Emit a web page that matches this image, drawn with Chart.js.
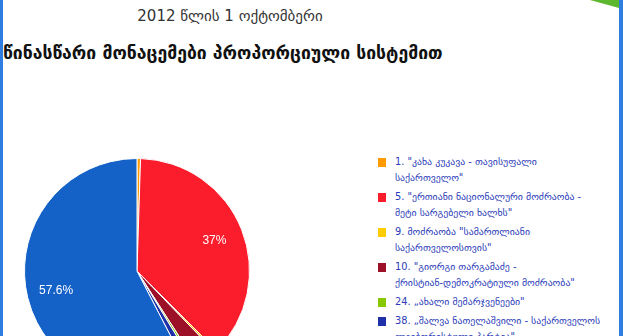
<!DOCTYPE html>
<html lang="ka">
<head>
<meta charset="UTF-8">
<title>2012 წლის 1 ოქტომბერი</title>
<script src="https://cdn.jsdelivr.net/npm/chart.js"></script>
<style>
  html, body { margin: 0; padding: 0; width: 623px; height: 336px; overflow: hidden; background: #fff; }
  body { position: relative; font-family: "DejaVu Sans", sans-serif; }
  .frameL { position: absolute; left: 0; top: 0; width: 3px; height: 336px; background: #2f7de1; }
  .frameR { position: absolute; left: 619px; top: 0; width: 4px; height: 336px; background: #2f7de1; }
  .corner { position: absolute; left: 590px; top: 0; width: 0; height: 0;
            border-left: 29px solid transparent; border-top: 8px solid #5cb82e; }
  .date { position: absolute; left: 0; width: 460px; top: 7px; text-align: center; font-size: 15px; color: #333; }
  .title { position: absolute; left: 3px; top: 43px; font-size: 17.6px; font-weight: bold; color: #111; white-space: nowrap; }
  .pie { position: absolute; left: 24px; top: 158px; width: 226px; height: 226px; }
  .legend { position: absolute; left: 378px; top: 154px; font-size: 9.8px; color: #2b3bb8; }
  .legend div { position: relative; padding-left: 17px; line-height: 16px; margin-bottom: 3px; white-space: nowrap; }
  .legend span { position: absolute; left: 0; top: 4px; width: 8px; height: 9px; }
</style>
</head>
<body>
<div class="frameL"></div>
<div class="frameR"></div>
<div class="corner"></div>
<div class="date">2012 წლის 1 ოქტომბერი</div>
<div class="title">წინასწარი მონაცემები პროპორციული სისტემით</div>
<div class="pie"><canvas id="pieChart"></canvas></div>
<div class="legend" id="legend"></div>

<script>
  // party list names (legend lines) and preliminary shares, %
  const parties = [
    ['1. "კახა კუკავა - თავისუფალი', 'საქართველო"'],
    ['5. "ერთიანი ნაციონალური მოძრაობა -', 'მეტი სარგებელი ხალხს"'],
    ['9. მოძრაობა "სამართლიანი', 'საქართველოსთვის"'],
    ['10. "გიორგი თარგამაძე -', 'ქრისტიან-დემოკრატიული მოძრაობა"'],
    ['24. „ახალი მემარჯვენეები"'],
    ['38. „შალვა ნათელაშვილი - საქართველოს', 'ლეიბორისტული პარტია"'],
    ['41. „ბიძინა ივანიშვილი - ქართული', 'ოცნება"']
  ];
  const shares = [0.5, 37.0, 0.3, 3.1, 0.4, 1.1, 57.6];
  const colors = ['#ff9a00', '#fb1c2c', '#ffcc00', '#9c1028', '#88c800', '#2030a8', '#1462c8'];
  const labelText = ['', '37%', '', '', '', '', '57.6%'];

  // legend
  const legendBox = document.getElementById('legend');
  parties.forEach(function (lines, i) {
    const row = document.createElement('div');
    row.innerHTML = '<span style="background:' + colors[i] + '"></span>' + lines.join('<br>');
    legendBox.appendChild(row);
  });

  // percent labels inside the slices
  const sliceLabels = {
    id: 'sliceLabels',
    afterDatasetsDraw(chart) {
      const ctx = chart.ctx;
      const meta = chart.getDatasetMeta(0);
      ctx.save();
      ctx.fillStyle = '#fff';
      ctx.font = '12px "Liberation Sans", Arial, sans-serif';
      ctx.textAlign = 'center';
      ctx.textBaseline = 'middle';
      meta.data.forEach(function (arc, i) {
        if (!labelText[i]) return;
        const p = arc.getProps(['x', 'y', 'startAngle', 'endAngle', 'outerRadius']);
        const mid = (p.startAngle + p.endAngle) / 2;
        const r = p.outerRadius * 0.74;
        ctx.fillText(labelText[i], p.x + Math.cos(mid) * r, p.y + Math.sin(mid) * r);
      });
      ctx.restore();
    }
  };

  new Chart(document.getElementById('pieChart'), {
    type: 'pie',
    data: {
      labels: parties.map(function (l) { return l.join(' '); }),
      datasets: [{
        data: shares,
        backgroundColor: colors,
        borderColor: '#ffffff',
        borderWidth: 1,
        hoverOffset: 0
      }]
    },
    options: {
      responsive: true,
      maintainAspectRatio: false,
      animation: false,
      layout: { padding: 0 },
      plugins: {
        legend: { display: false },
        tooltip: { enabled: false }
      }
    },
    plugins: [sliceLabels]
  });
</script>
</body>
</html>
